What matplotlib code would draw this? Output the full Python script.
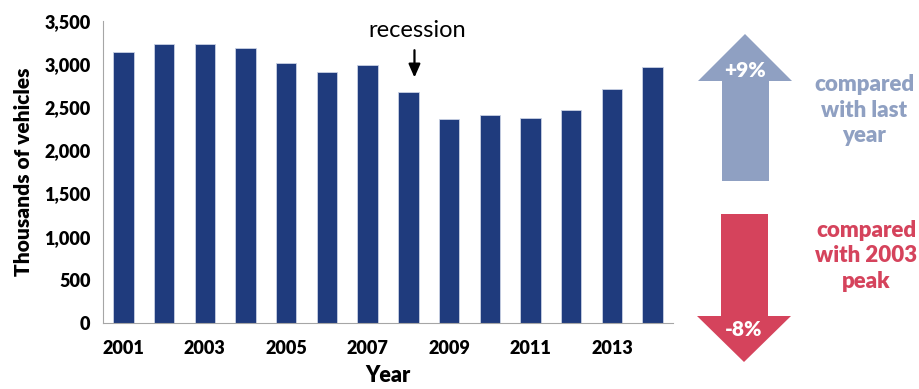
import matplotlib
matplotlib.use("Agg")
import matplotlib.pyplot as plt
from matplotlib.patches import Polygon
import numpy as np

years = list(range(2001, 2015))
vehicles = [3140, 3225, 3225, 3180, 3005, 2905, 2990, 2670, 2362, 2408, 2377, 2466, 2712, 2958]
tick_years = [2001, 2003, 2005, 2007, 2009, 2011, 2013]

bar_color = "#1F3B7D"
up_color = "#8FA0C2"
down_color = "#D5435C"

plt.rcParams["font.family"] = ["Lato", "DejaVu Sans"]

fig = plt.figure(figsize=(9.2, 3.89), dpi=100)
ax = fig.add_axes([0.112, 0.169, 0.6195, 0.778])

x = np.arange(len(years))
ax.bar(x, vehicles, width=0.5, color=bar_color, edgecolor="#C9D1E4", linewidth=0.6)
ax.set_xlim(-0.5, len(years) - 0.5)
ax.set_ylim(0, 3500)
ax.set_yticks(np.arange(0, 3501, 500))
ax.set_yticklabels([f"{v:,}" for v in range(0, 3501, 500)], fontsize=13, fontweight="heavy")
ax.set_xticks([years.index(y) for y in tick_years])
ax.set_xticklabels([str(y) for y in tick_years], fontsize=13, fontweight="heavy")
ax.tick_params(length=0, pad=9)
ax.tick_params(axis="x", pad=12)
for s in ["top", "right"]:
    ax.spines[s].set_visible(False)
for s in ["left", "bottom"]:
    ax.spines[s].set_color("#A6A6A6")
ax.set_ylabel("Thousands of vehicles", fontsize=15, fontweight="heavy", labelpad=8)
ax.set_xlabel("Year", fontsize=15.5, fontweight="heavy", labelpad=6)

# recession annotation
i08 = years.index(2008)
ax.annotate("", xy=(i08 + 0.15, vehicles[i08] + 140), xytext=(i08 + 0.15, vehicles[i08] + 520),
            arrowprops=dict(arrowstyle="-|>,head_width=0.35,head_length=0.8", color="black", lw=1.6))
ax.text(i08 + 0.22, vehicles[i08] + 600, "recession", ha="center", va="bottom", fontsize=17)

# overlay in pixel coordinates for the side arrows
ov = fig.add_axes([0, 0, 1, 1])
ov.set_xlim(0, 920)
ov.set_ylim(389, 0)
ov.axis("off")

up = [(722, 181), (722, 81), (698, 81), (745, 34), (792, 81), (769, 81), (769, 181)]
ov.add_patch(Polygon(up, closed=True, color=up_color, lw=0))
ov.text(745, 70, "+9%", ha="center", va="center", color="white", fontsize=15, fontweight="heavy")

down = [(721, 214), (721, 316), (697, 316), (744, 362), (791, 316), (768, 316), (768, 214)]
ov.add_patch(Polygon(down, closed=True, color=down_color, lw=0))
ov.text(744, 330, "-8%", ha="center", va="center", color="white", fontsize=15, fontweight="heavy")

ov.text(864, 110, "compared\nwith last\nyear", ha="center", va="center", color=up_color,
        fontsize=16, fontweight="heavy", linespacing=1.25)
ov.text(866, 256, "compared\nwith 2003\npeak", ha="center", va="center", color=down_color,
        fontsize=16, fontweight="heavy", linespacing=1.25)

fig.savefig("out.png", dpi=100)
